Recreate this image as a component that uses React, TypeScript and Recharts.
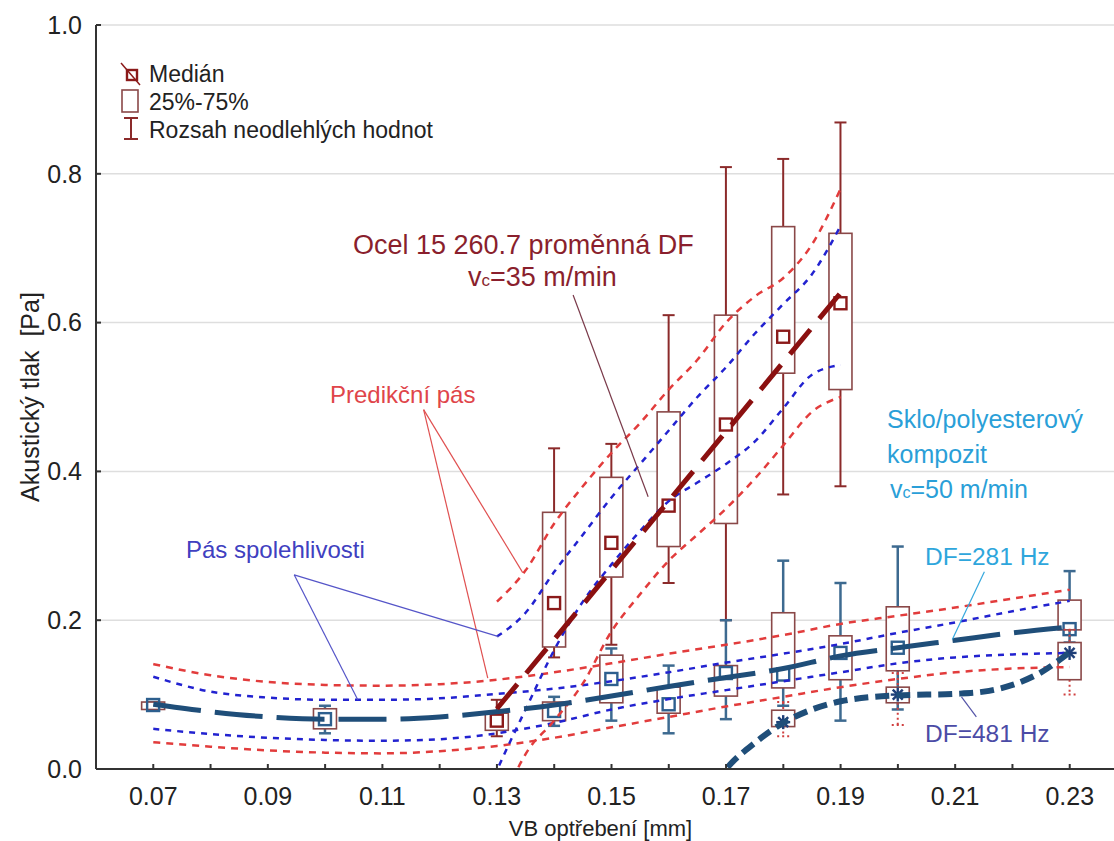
import { Bar, CartesianGrid, ComposedChart, Line, ReferenceLine, XAxis, YAxis } from 'recharts'

const FONT = '"Liberation Sans", Arial, sans-serif'

// box plots: [x, min, q1, median, q3, max]
const STEEL_BOXES = [
  [0.13, 0.044, 0.052, 0.065, 0.075, 0.093],
  [0.14, 0.15, 0.164, 0.223, 0.345, 0.431],
  [0.15, 0.167, 0.258, 0.304, 0.392, 0.437],
  [0.16, 0.25, 0.299, 0.354, 0.48, 0.61],
  [0.17, 0.2, 0.33, 0.463, 0.61, 0.809],
  [0.18, 0.369, 0.532, 0.581, 0.729, 0.82],
  [0.19, 0.38, 0.51, 0.626, 0.72, 0.869],
]

const DF281_BOXES = [
  [0.07, 0.08, 0.08, 0.086, 0.09, 0.09],
  [0.1, 0.048, 0.054, 0.067, 0.081, 0.085],
  [0.14, 0.058, 0.065, 0.078, 0.09, 0.097],
  [0.15, 0.065, 0.089, 0.121, 0.153, 0.162],
  [0.16, 0.048, 0.075, 0.087, 0.11, 0.139],
  [0.17, 0.067, 0.098, 0.129, 0.139, 0.2],
  [0.18, 0.085, 0.109, 0.127, 0.21, 0.28],
  [0.19, 0.065, 0.12, 0.156, 0.179, 0.25],
  [0.2, 0.08, 0.132, 0.163, 0.218, 0.299],
  [0.23, 0.17, 0.187, 0.188, 0.227, 0.266],
]

const DF481_BOXES = [
  [0.18, 0.044, 0.057, 0.063, 0.079, 0.09],
  [0.2, 0.059, 0.089, 0.1, 0.11, 0.129],
  [0.23, 0.1, 0.12, 0.156, 0.17, 0.187],
]

// steel regression and its bands
const STEEL_TREND_X = [0.13, 0.19]
const STEEL_TREND_Y = [0.081, 0.64]
const STEEL_UP_X = [0.13, 0.135, 0.14, 0.145, 0.15, 0.155, 0.16, 0.165, 0.17, 0.175, 0.18, 0.185, 0.19]
const STEEL_PRED_UP = [0.225, 0.267, 0.33, 0.38, 0.425, 0.465, 0.51, 0.55, 0.6, 0.635, 0.66, 0.705, 0.78]
const STEEL_CONF_UP = [0.178, 0.21, 0.265, 0.315, 0.365, 0.41, 0.455, 0.5, 0.54, 0.585, 0.625, 0.665, 0.73]
const STEEL_CONF_LO_X = [0.1295, 0.1325, 0.135, 0.14, 0.145, 0.15, 0.155, 0.16, 0.165, 0.17, 0.175, 0.18, 0.185, 0.19]
const STEEL_CONF_LO = [-0.01, 0.04, 0.08, 0.16, 0.225, 0.275, 0.32, 0.36, 0.385, 0.41, 0.44, 0.485, 0.53, 0.543]
const STEEL_PRED_LO_X = [0.132, 0.1336, 0.135, 0.14, 0.145, 0.15, 0.155, 0.16, 0.165, 0.17, 0.175, 0.18, 0.185, 0.19]
const STEEL_PRED_LO = [-0.03, 0, 0.02, 0.065, 0.115, 0.185, 0.235, 0.28, 0.315, 0.35, 0.39, 0.435, 0.48, 0.5]

// composite (DF=281 Hz) regression and bands
const COMP_X = [0.07, 0.08, 0.09, 0.1, 0.11, 0.12, 0.13, 0.14, 0.15, 0.16, 0.17, 0.18, 0.19, 0.2, 0.21, 0.22, 0.23]
const COMP_TREND = [0.087, 0.077, 0.07, 0.067, 0.067, 0.07, 0.077, 0.086, 0.098, 0.111, 0.123, 0.135, 0.152, 0.163, 0.173, 0.183, 0.191]
const COMP_PRED_UP = [0.141, 0.126, 0.117, 0.113, 0.112, 0.114, 0.12, 0.13, 0.142, 0.155, 0.167, 0.18, 0.195, 0.206, 0.217, 0.229, 0.241]
const COMP_CONF_UP = [0.124, 0.104, 0.096, 0.093, 0.093, 0.095, 0.101, 0.108, 0.118, 0.13, 0.143, 0.155, 0.168, 0.183, 0.197, 0.212, 0.226]
const COMP_CONF_LO = [0.054, 0.047, 0.042, 0.039, 0.038, 0.04, 0.048, 0.062, 0.08, 0.094, 0.106, 0.118, 0.13, 0.142, 0.15, 0.154, 0.156]
const COMP_PRED_LO = [0.036, 0.03, 0.025, 0.022, 0.021, 0.024, 0.031, 0.042, 0.056, 0.07, 0.084, 0.097, 0.11, 0.121, 0.13, 0.135, 0.137]

// DF=481 Hz trend
const DF481_X = [0.168, 0.17, 0.175, 0.18, 0.185, 0.19, 0.2, 0.21, 0.215, 0.22, 0.225, 0.23]
const DF481_TREND = [-0.02, 0, 0.035, 0.062, 0.08, 0.091, 0.099, 0.101, 0.104, 0.113, 0.13, 0.157]

const X_TICKS = [0.07, 0.08, 0.09, 0.1, 0.11, 0.12, 0.13, 0.14, 0.15, 0.16, 0.17, 0.18, 0.19, 0.2, 0.21, 0.22, 0.23]
const X_LABELS = ['0.07', '', '0.09', '', '0.11', '', '0.13', '', '0.15', '', '0.17', '', '0.19', '', '0.21', '', '0.23']
const Y_TICKS = [0, 0.2, 0.4, 0.6, 0.8, 1.0]

// leader lines from the labels to the curves, in data units
const LEADERS = [
  { from: [0.1433, 0.637], to: [0.1564, 0.366], color: '#7a3a4a' },
  { from: [0.1172, 0.483], to: [0.1345, 0.264], color: '#e05050' },
  { from: [0.1172, 0.483], to: [0.1284, 0.122], color: '#e05050' },
  { from: [0.0946, 0.261], to: [0.1303, 0.178], color: '#5555c8' },
  { from: [0.0946, 0.261], to: [0.1057, 0.093], color: '#5555c8' },
  { from: [0.2151, 0.265], to: [0.2095, 0.174], color: '#35a8dd' },
  { from: [0.2137, 0.07], to: [0.2111, 0.097], color: '#5555a8' },
]

const toBoxes = (rows: number[][], kind: string) =>
  rows.map(([x, min, q1, median, q3, max]) => ({ x, min, q1, median, q3, max, kind }))

const boxData = [
  ...toBoxes(STEEL_BOXES, 'steel'),
  ...toBoxes(DF281_BOXES, 'df281'),
  ...toBoxes(DF481_BOXES, 'df481'),
]

const pts = (xs: number[], ys: number[]) => xs.map((x, i) => ({ x, y: ys[i] }))

const BOX_STROKE = '#8a4848'
const BOX_W = 23
const WHISKER: Record<string, { color: string; width: number; dash?: string }> = {
  steel: { color: '#8b2a2a', width: 2 },
  df281: { color: '#3d6a90', width: 2.5 },
  df481: { color: '#d04040', width: 2, dash: '2 3' },
}

function BoxShape(props: any) {
  const { x, y, width, height, payload } = props
  const { min, q1, median, q3, max, kind } = payload
  const top = Math.min(y, y + height)
  const h = Math.abs(height)
  const ppu = h / (q3 - q1)
  const yOf = (v: number) => top + (q3 - v) * ppu
  const cx = x + width / 2
  const bx = cx - BOX_W / 2
  const w = WHISKER[kind]
  const cap = 6
  const yMin = yOf(min)
  const yMax = yOf(max)
  const yMed = yOf(median)
  return (
    <g>
      <line x1={cx} x2={cx} y1={yMax} y2={top} stroke={w.color} strokeWidth={w.width} strokeDasharray={w.dash} />
      <line x1={cx} x2={cx} y1={top + h} y2={yMin} stroke={w.color} strokeWidth={w.width} strokeDasharray={w.dash} />
      <line x1={cx - cap} x2={cx + cap} y1={yMax} y2={yMax} stroke={w.color} strokeWidth={w.width} strokeDasharray={w.dash} />
      <line x1={cx - cap} x2={cx + cap} y1={yMin} y2={yMin} stroke={w.color} strokeWidth={w.width} strokeDasharray={w.dash} />
      <rect x={bx} y={top} width={BOX_W} height={h} fill="#fff" stroke={BOX_STROKE} strokeWidth={1.6} />
      {kind === 'steel' && (
        <rect x={cx - 6} y={yMed - 6} width={12} height={12} fill="none" stroke="#8b1a1a" strokeWidth={2.4} />
      )}
      {kind === 'df281' && (
        <rect x={cx - 6} y={yMed - 6} width={12} height={12} fill="none" stroke="#2d5f8e" strokeWidth={2.4} />
      )}
      {kind === 'df481' && (
        <g stroke="#1f3f78" strokeWidth={2.4}>
          <line x1={cx - 7} x2={cx + 7} y1={yMed} y2={yMed} />
          <line x1={cx} x2={cx} y1={yMed - 7} y2={yMed + 7} />
          <line x1={cx - 5} x2={cx + 5} y1={yMed - 5} y2={yMed + 5} />
          <line x1={cx - 5} x2={cx + 5} y1={yMed + 5} y2={yMed - 5} />
        </g>
      )}
    </g>
  )
}

const bandRed = { stroke: '#e23c3c', strokeWidth: 2.5, strokeDasharray: '7 6' }
const bandBlue = { stroke: '#2222d0', strokeWidth: 2.5, strokeDasharray: '6 6' }

function Overlay() {
  const t = { fontFamily: FONT }
  return (
    <svg width={1114} height={841} style={{ position: 'absolute', left: 0, top: 0, pointerEvents: 'none' }}>
      {/* legend */}
      <rect x={127} y={70} width={10} height={10} fill="none" stroke="#8b1a1a" strokeWidth={2.4} />
      <line x1={121} y1={63} x2={140} y2={85} stroke="#8b1a1a" strokeWidth={1.5} />
      <text x={149} y={82} fontSize={23} fill="#222" style={t}>Medián</text>
      <rect x={122} y={90} width={16} height={22} fill="none" stroke={BOX_STROKE} strokeWidth={1.6} />
      <text x={149} y={110} fontSize={23} fill="#222" style={t}>25%-75%</text>
      <g stroke="#8b2a2a" strokeWidth={2}>
        <line x1={124} x2={138} y1={118} y2={118} />
        <line x1={124} x2={138} y1={139} y2={139} />
        <line x1={131} x2={131} y1={118} y2={139} />
      </g>
      <text x={149} y={138} fontSize={23} fill="#222" style={t}>Rozsah neodlehlých hodnot</text>

      {/* annotations */}
      <text x={353} y={254} fontSize={27} fill="#8a1f2d" style={t}>Ocel 15 260.7 proměnná DF</text>
      <text x={468} y={286} fontSize={27} fill="#8a1f2d" style={t}>
        v<tspan fontSize={17}>c</tspan>=35 m/min
      </text>
      <text x={330} y={403} fontSize={24} fill="#e0454a" style={t}>Predikční pás</text>
      <text x={186} y={558} fontSize={24} fill="#4040c0" style={t}>Pás spolehlivosti</text>
      <text x={887} y={428} fontSize={25} fill="#2a9fd8" style={t}>Sklo/polyesterový</text>
      <text x={887} y={463} fontSize={25} fill="#2a9fd8" style={t}>kompozit</text>
      <text x={890} y={498} fontSize={25} fill="#2a9fd8" style={t}>
        v<tspan fontSize={16}>c</tspan>=50 m/min
      </text>
      <text x={925} y={565} fontSize={24.5} fill="#2ea6dc" style={t}>DF=281 Hz</text>
      <text x={925} y={742} fontSize={24.5} fill="#4b4ba6" style={t}>DF=481 Hz</text>
    </svg>
  )
}

export default function App() {
  return (
    <div
      style={{
        position: 'fixed',
        left: 0,
        top: 0,
        width: 1114,
        height: 841,
        overflow: 'hidden',
        background: '#fff',
        fontFamily: FONT,
      }}
    >
      <ComposedChart width={1140} height={841} data={boxData} margin={{ top: 25, right: 13, bottom: 0, left: 0 }}>
        <CartesianGrid vertical={false} stroke="#dedede" strokeWidth={1.5} />
        <XAxis
          type="number"
          dataKey="x"
          domain={[0.06, 0.24]}
          allowDataOverflow
          ticks={X_TICKS}
          interval={0}
          tickFormatter={(_v: number, i: number) => X_LABELS[i]}
          height={72}
          tickSize={-5}
          tickMargin={23}
          tick={{ fontSize: 25, fill: '#222', fontFamily: FONT }}
          axisLine={{ stroke: '#333', strokeWidth: 2 }}
          tickLine={{ stroke: '#333', strokeWidth: 2 }}
          label={{
            value: 'VB optřebení [mm]',
            position: 'insideBottom',
            offset: 5,
            dx: -11,
            style: { fontSize: 22, fill: '#222', fontFamily: FONT },
          }}
        />
        <XAxis
          xAxisId="top"
          orientation="top"
          type="number"
          domain={[0.06, 0.24]}
          allowDataOverflow
          ticks={X_TICKS}
          interval={0}
          tickFormatter={() => ''}
          height={0}
          tickSize={-6}
          axisLine={{ stroke: '#333', strokeWidth: 2 }}
          tickLine={{ stroke: '#333', strokeWidth: 2 }}
        />
        <YAxis
          type="number"
          domain={[0, 1]}
          allowDataOverflow
          ticks={Y_TICKS}
          interval={0}
          tickFormatter={(v: number) => v.toFixed(1)}
          width={96}
          tickSize={-5}
          tickMargin={19}
          tick={{ fontSize: 25, fill: '#222', fontFamily: FONT }}
          axisLine={{ stroke: '#333', strokeWidth: 2 }}
          tickLine={{ stroke: '#333', strokeWidth: 2 }}
          label={{
            value: 'Akustický tlak \u00a0[Pa]',
            angle: -90,
            position: 'center',
            dx: -18,
            style: { fontSize: 25, fill: '#222', fontFamily: FONT },
          }}
        />
        <Bar
          dataKey={(d: any) => [d.q1, d.q3]}
          barSize={23}
          shape={BoxShape}
          isAnimationActive={false}
        />
        <Line data={pts(COMP_X, COMP_PRED_UP)} dataKey="y" type="monotone" {...bandRed} dot={false} activeDot={false} isAnimationActive={false} />
        <Line data={pts(COMP_X, COMP_PRED_LO)} dataKey="y" type="monotone" {...bandRed} dot={false} activeDot={false} isAnimationActive={false} />
        <Line data={pts(COMP_X, COMP_CONF_UP)} dataKey="y" type="monotone" {...bandBlue} dot={false} activeDot={false} isAnimationActive={false} />
        <Line data={pts(COMP_X, COMP_CONF_LO)} dataKey="y" type="monotone" {...bandBlue} dot={false} activeDot={false} isAnimationActive={false} />
        <Line data={pts(STEEL_UP_X, STEEL_PRED_UP)} dataKey="y" type="monotone" {...bandRed} dot={false} activeDot={false} isAnimationActive={false} />
        <Line data={pts(STEEL_PRED_LO_X, STEEL_PRED_LO)} dataKey="y" type="monotone" {...bandRed} dot={false} activeDot={false} isAnimationActive={false} />
        <Line data={pts(STEEL_UP_X, STEEL_CONF_UP)} dataKey="y" type="monotone" {...bandBlue} dot={false} activeDot={false} isAnimationActive={false} />
        <Line data={pts(STEEL_CONF_LO_X, STEEL_CONF_LO)} dataKey="y" type="monotone" {...bandBlue} dot={false} activeDot={false} isAnimationActive={false} />
        <Line
          data={pts(COMP_X, COMP_TREND)}
          dataKey="y"
          type="monotone"
          stroke="#1f4e79"
          strokeWidth={5}
          strokeDasharray="48 14"
          dot={false}
          activeDot={false}
          isAnimationActive={false}
        />
        <Line
          data={pts(DF481_X, DF481_TREND)}
          dataKey="y"
          type="monotone"
          stroke="#1f4e79"
          strokeWidth={6}
          strokeDasharray="14 7"
          dot={false}
          activeDot={false}
          isAnimationActive={false}
        />
        <Line
          data={pts(STEEL_TREND_X, STEEL_TREND_Y)}
          dataKey="y"
          type="linear"
          stroke="#8b1010"
          strokeWidth={5}
          strokeDasharray="32 14"
          dot={false}
          activeDot={false}
          isAnimationActive={false}
        />
        {LEADERS.map((l, i) => (
          <ReferenceLine
            key={i}
            segment={[
              { x: l.from[0], y: l.from[1] },
              { x: l.to[0], y: l.to[1] },
            ]}
            stroke={l.color}
            strokeWidth={1.2}
            ifOverflow="visible"
          />
        ))}
      </ComposedChart>
      <Overlay />
    </div>
  )
}
